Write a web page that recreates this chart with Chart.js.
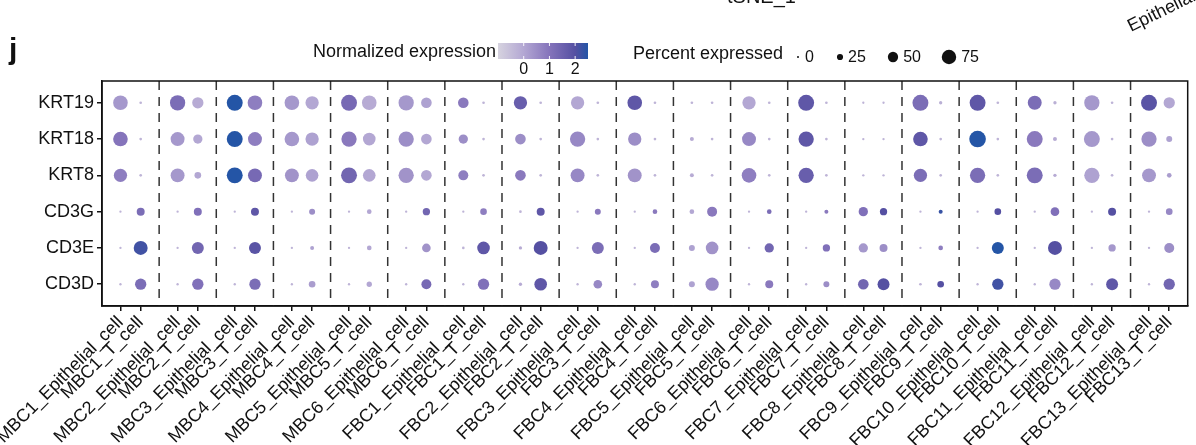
<!DOCTYPE html>
<html>
<head>
<meta charset="utf-8">
<script src="https://cdn.jsdelivr.net/npm/chart.js@4"></script>
<style>
  body { margin: 0; background: #fff; }
  #wrap { width: 1196px; height: 445px; position: relative; }
</style>
</head>
<body>
<div id="wrap"><canvas id="dotPlot"></canvas></div>
<script>
// samples, cell types and genes
const samples = ["MBC1", "MBC2", "MBC3", "MBC4", "MBC5", "MBC6",
  "FBC1", "FBC2", "FBC3", "FBC4", "FBC5", "FBC6", "FBC7", "FBC8", "FBC9", "FBC10", "FBC11", "FBC12", "FBC13"];
const cellTypes = ["Epithelial_cell", "T_cell"];
const genes = ["KRT19", "KRT18", "KRT8", "CD3G", "CD3E", "CD3D"];

// percent expressed, column order: MBC1 epi, MBC1 T, MBC2 epi, MBC2 T, ...
const pctKRT19 = [76, 4, 80, 56, 84, 76, 76, 68, 84, 76, 80, 52, 52, 4, 68, 4, 68, 4, 76, 4, 4, 4, 68, 4, 84, 4, 2, 2, 84, 8, 84, 4, 72, 8, 80, 4, 84, 56];
const pctKRT18 = [76, 4, 72, 44, 84, 72, 76, 68, 80, 64, 80, 52, 44, 4, 52, 4, 80, 4, 68, 4, 12, 4, 72, 4, 80, 4, 2, 2, 76, 4, 88, 4, 84, 12, 84, 4, 80, 24];
const pctKRT8  = [68, 4, 72, 28, 84, 72, 72, 64, 84, 64, 80, 52, 48, 4, 52, 4, 72, 4, 72, 4, 12, 4, 76, 4, 80, 4, 2, 2, 68, 4, 80, 4, 84, 8, 80, 4, 72, 16];
const pctCD3G  = [2, 36, 2, 36, 2, 36, 2, 24, 2, 16, 2, 32, 2, 28, 4, 36, 2, 24, 2, 16, 16, 48, 2, 16, 2, 12, 44, 32, 2, 12, 2, 28, 2, 40, 2, 36, 2, 28];
const pctCD3E  = [2, 72, 2, 60, 2, 60, 2, 12, 2, 16, 2, 40, 4, 64, 8, 72, 2, 60, 2, 48, 24, 64, 2, 44, 2, 32, 44, 36, 2, 16, 2, 60, 2, 72, 2, 32, 2, 48];
const pctCD3D  = [2, 56, 2, 56, 2, 56, 2, 28, 2, 20, 2, 48, 2, 56, 8, 64, 2, 40, 2, 36, 24, 68, 2, 36, 2, 24, 52, 60, 4, 28, 2, 56, 2, 56, 2, 60, 2, 56];

// normalized expression, same column order
const exprKRT19 = [0.3, -0.3, 1.2, -0.1, 2.5, 0.8, 0.3, 0, 1.3, -0.1, 0.3, 0.1, 0.9, -0.3, 1.6, -0.3, 0, -0.3, 1.8, -0.3, -0.3, -0.3, 0, -0.3, 1.8, -0.3, -0.3, -0.3, 1.2, -0.2, 1.8, -0.3, 1.2, -0.2, 0.3, -0.3, 1.9, 0];
const exprKRT18 = [1.0, -0.3, 0.3, 0, 2.5, 0.8, 0.3, 0.1, 0.9, 0, 0.5, 0, 0.5, -0.3, 0.5, -0.3, 0.6, -0.3, 0.5, -0.3, -0.1, -0.3, 0.6, -0.3, 1.8, -0.3, -0.3, -0.3, 1.8, -0.3, 2.5, -0.3, 0.9, -0.1, 0.3, -0.3, 0.5, 0.1];
const exprKRT8  = [0.8, -0.3, 0.3, 0, 2.5, 1.3, 0.4, 0.1, 1.4, 0, 0.4, 0, 0.8, -0.3, 0.9, -0.3, 0.6, -0.3, 0.4, -0.3, -0.1, -0.3, 0.8, -0.3, 1.6, -0.3, -0.3, -0.3, 1.2, -0.3, 1.2, -0.3, 1.2, -0.1, 0.1, -0.3, 0.3, 0.2];
const exprCD3G  = [-0.3, 1.2, -0.3, 1.1, -0.3, 1.8, -0.3, 0.5, -0.3, 0, -0.3, 1.4, -0.3, 0.8, -0.3, 1.8, -0.3, 0.9, -0.3, 0.9, 0, 0.9, -0.3, 1.2, -0.3, 0.9, 1.1, 2.0, -0.3, 2.3, -0.3, 2.0, -0.3, 1.1, -0.3, 2.0, -0.3, 0.6];
const exprCD3E  = [-0.3, 2.2, -0.3, 1.4, -0.3, 1.9, -0.3, 0.1, -0.3, 0, -0.3, 0.4, -0.3, 1.8, -0.1, 2.0, -0.3, 1.2, -0.3, 1.2, 0.1, 0.4, -0.3, 1.4, -0.3, 1.1, 0.3, 0.5, -0.3, 0.8, -0.3, 2.5, -0.3, 2.0, -0.3, 0.3, -0.3, 0.5];
const exprCD3D  = [-0.3, 1.2, -0.3, 1.1, -0.3, 1.2, -0.3, 0.2, -0.3, 0, -0.3, 1.3, -0.3, 1.1, -0.1, 1.8, -0.3, 0.6, -0.3, 0.8, 0.1, 0.6, -0.3, 0.9, -0.3, 0.5, 1.4, 2.0, -0.3, 2.0, -0.3, 2.2, -0.3, 0.6, -0.3, 1.8, -0.3, 1.4];

const pctByGene = [pctKRT19, pctKRT18, pctKRT8, pctCD3G, pctCD3E, pctCD3D];
const exprByGene = [exprKRT19, exprKRT18, exprKRT8, exprCD3G, exprCD3E, exprCD3D];

// legend keys
const colorTicks = [0, 1, 2];
const sizeBreaks = [0, 25, 50, 75];

const FONT = "'Liberation Sans', Arial, sans-serif";
const CELL_GAP = 0.354;
const colorStops = [[-1, "#d6d3df"], [0, "#b3a7d3"], [1, "#8574bb"], [2, "#5550a2"], [2.5, "#2455a6"]];

function hexToRgb(h) {
  return [parseInt(h.slice(1, 3), 16), parseInt(h.slice(3, 5), 16), parseInt(h.slice(5, 7), 16)];
}

function exprColor(v) {
  if (v <= colorStops[0][0]) return colorStops[0][1];
  for (let i = 1; i < colorStops.length; i++) {
    if (v <= colorStops[i][0]) {
      const a = colorStops[i - 1], b = colorStops[i];
      const t = (v - a[0]) / (b[0] - a[0]);
      const ca = hexToRgb(a[1]), cb = hexToRgb(b[1]);
      const c = ca.map((x, k) => Math.round(x + (cb[k] - x) * t));
      return "rgb(" + c.join(",") + ")";
    }
  }
  return colorStops[colorStops.length - 1][1];
}

function pctRadius(p) {
  return 1 + 0.083 * p;
}

const columnLabels = samples.flatMap(s => cellTypes.map(c => s + "_" + c));
const columnX = samples.flatMap((s, i) => cellTypes.map((c, j) => i + (j - 0.5) * CELL_GAP));

const datasets = genes.map((g, gi) => ({
  label: g,
  data: columnX.map(x => ({ x: x, y: gi })),
  pointRadius: ctx => pctRadius(pctByGene[gi][ctx.dataIndex]),
  pointBackgroundColor: ctx => exprColor(exprByGene[gi][ctx.dataIndex]),
  pointBorderWidth: 0,
  showLine: false
}));

const framePlugin = {
  id: "frame",
  beforeDatasetsDraw(chart) {
    const { ctx, chartArea: a, scales } = chart;
    ctx.save();
    ctx.strokeStyle = "#333";
    ctx.lineWidth = 1.5;
    ctx.setLineDash([9, 7]);
    for (let i = 0; i < samples.length - 1; i++) {
      const x = scales.x.getPixelForValue(i + 0.5);
      ctx.beginPath();
      ctx.moveTo(x, a.top);
      ctx.lineTo(x, a.bottom);
      ctx.stroke();
    }
    ctx.restore();
  },
  afterDraw(chart) {
    const { ctx, chartArea: a } = chart;
    ctx.save();
    ctx.strokeStyle = "#111";
    ctx.lineWidth = 1.5;
    ctx.strokeRect(a.left, a.top, a.right - a.left, a.bottom - a.top);

    // panel letter and clipped text from the figure above
    ctx.fillStyle = "#111";
    ctx.font = "bold 30px " + FONT;
    ctx.textBaseline = "alphabetic";
    ctx.textAlign = "left";
    ctx.fillText("j", 9, 59);
    ctx.font = "20px " + FONT;
    ctx.fillText("tSNE_1", 727, 3);
    ctx.save();
    ctx.translate(1131, 32);
    ctx.rotate(-26 * Math.PI / 180);
    ctx.font = "18px " + FONT;
    ctx.fillText("Epithelial", 0, 0);
    ctx.restore();

    // colour legend
    ctx.font = "18px " + FONT;
    ctx.textAlign = "right";
    ctx.textBaseline = "middle";
    ctx.fillText("Normalized expression", 496, 52);
    const barL = 498, barR = 588, barT = 43, barB = 59;
    const vMin = colorStops[0][0], vMax = colorStops[colorStops.length - 1][0];
    const grad = ctx.createLinearGradient(barL, 0, barR, 0);
    colorStops.forEach(s => grad.addColorStop((s[0] - vMin) / (vMax - vMin), s[1]));
    ctx.fillStyle = grad;
    ctx.fillRect(barL, barT, barR - barL, barB - barT);
    ctx.fillStyle = "#111";
    ctx.font = "16px " + FONT;
    ctx.textAlign = "center";
    colorTicks.forEach(v => {
      const x = barL + (v - vMin) / (vMax - vMin) * (barR - barL);
      ctx.strokeStyle = "rgba(255,255,255,0.9)";
      ctx.lineWidth = 1;
      ctx.beginPath();
      ctx.moveTo(x, barT); ctx.lineTo(x, barT + 3);
      ctx.moveTo(x, barB - 3); ctx.lineTo(x, barB);
      ctx.stroke();
      ctx.fillText(String(v), x, 70);
    });

    // size legend
    ctx.font = "18px " + FONT;
    ctx.textAlign = "left";
    ctx.fillText("Percent expressed", 633, 54);
    ctx.font = "16px " + FONT;
    const keyX = [798, 840, 893, 949];
    sizeBreaks.forEach((p, i) => {
      const r = pctRadius(p);
      ctx.beginPath();
      ctx.arc(keyX[i], 57, r, 0, Math.PI * 2);
      ctx.fill();
      ctx.fillText(String(p), keyX[i] + Math.max(r, 2) + 5, 58);
    });
    ctx.restore();
  }
};

new Chart(document.getElementById("dotPlot"), {
  type: "scatter",
  data: { datasets: datasets },
  options: {
    responsive: true,
    maintainAspectRatio: false,
    animation: false,
    layout: { padding: { top: 81, right: 3, left: 0, bottom: 0 } },
    plugins: { legend: { display: false }, tooltip: { enabled: false } },
    scales: {
      x: {
        type: "linear",
        min: -0.5,
        max: 18.5,
        afterBuildTicks: s => { s.ticks = columnX.map(v => ({ value: v })); },
        afterFit: s => { s.height = 139; s.paddingLeft = 0; s.paddingRight = 0; },
        ticks: {
          autoSkip: false,
          minRotation: 45,
          maxRotation: 45,
          padding: 1,
          color: "#111",
          font: { family: FONT, size: 18 },
          callback: (v, i) => columnLabels[i]
        },
        grid: { drawOnChartArea: false, drawTicks: true, tickLength: 5, color: "#111", lineWidth: 1.5 },
        border: { display: true, color: "#111", width: 1.5 }
      },
      y: {
        type: "linear",
        min: -0.6,
        max: 5.6,
        reverse: true,
        afterBuildTicks: s => { s.ticks = genes.map((g, i) => ({ value: i })); },
        afterFit: s => { s.width = 102; s.paddingTop = 0; s.paddingBottom = 0; },
        ticks: {
          autoSkip: false,
          padding: 3,
          color: "#111",
          font: { family: FONT, size: 18 },
          callback: (v, i) => genes[i]
        },
        grid: { drawOnChartArea: false, drawTicks: true, tickLength: 5, color: "#111", lineWidth: 1.5 },
        border: { display: true, color: "#111", width: 1.5 }
      }
    }
  },
  plugins: [framePlugin]
});
</script>
</body>
</html>
